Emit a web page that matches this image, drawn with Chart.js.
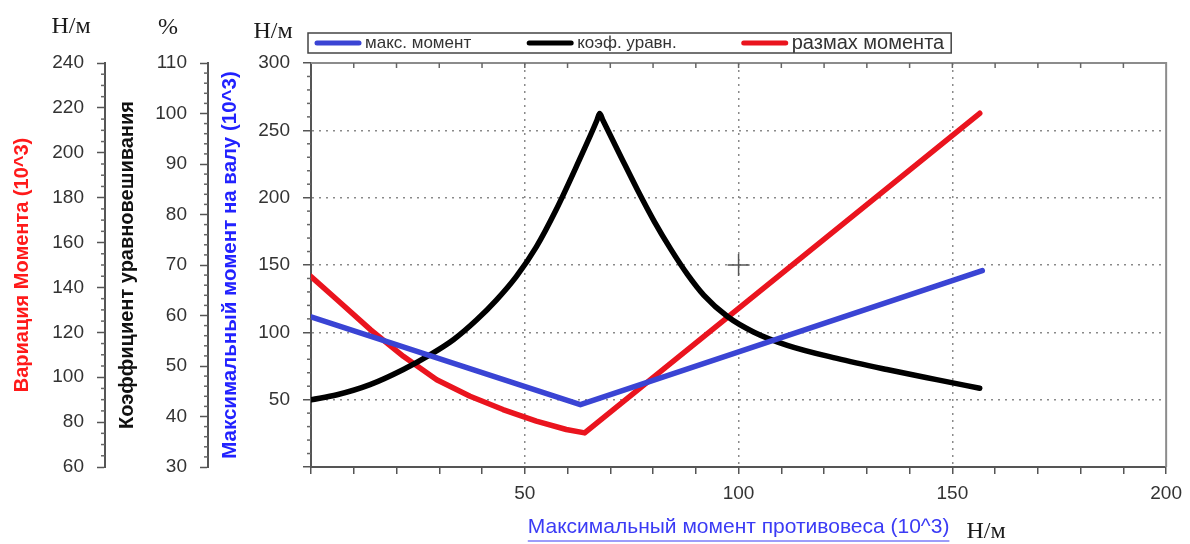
<!DOCTYPE html>
<html>
<head>
<meta charset="utf-8">
<script src="https://cdn.jsdelivr.net/npm/chart.js@4.4.1/dist/chart.umd.min.js"></script>
<style>
  body { margin: 0; background: #fff; }
</style>
</head>
<body>
<canvas id="myChart" width="1190" height="544"></canvas>
<script>
// values, x = max counterweight moment (10^3 Н/м)
const momentX = [0, 63, 157];
const momentY = [111.5, 46.3, 145.8];

const coefX = [0, 6.1, 13.8, 21.6, 27.8, 33.3, 38.7, 43.4, 48.0, 52.7, 57.3, 62.0, 66.9, 67.5, 68.3,
               72.5, 76.4, 80.3, 84.1, 88.0, 91.9, 97.4, 103.6, 111.4, 123.0, 134.7, 146.3, 156.4];
const coefY = [43.3, 44.3, 46.3, 49.3, 52.2, 55.2, 59.1, 63.1, 67.7, 73.6, 80.9, 89.4, 98.7, 100, 98.6,
               91.4, 84.8, 78.6, 73.2, 68.2, 64.0, 59.8, 56.7, 54.1, 51.5, 49.3, 47.3, 45.6];

const rangeX = [0, 6.1, 13.9, 21.6, 29.4, 37.2, 44.9, 52.7, 59.7, 64.0, 156.4];
const rangeY = [144.9, 134.5, 121.2, 109.3, 98.9, 91.5, 85.6, 80.4, 76.7, 75.2, 217.6];

// cursor cross left on the plot
const cursorX = [100];
const cursorY = [150];

const seriesNames = ['макс. момент', 'коэф. уравн.', 'размах момента'];

const blue = 'rgb(58, 68, 212)';
const red = 'rgb(234, 20, 30)';
const axisColor = '#555';
const tickFont = { family: 'Liberation Sans, Arial, sans-serif', size: 19 };
const titleFont = { family: 'Liberation Sans, Arial, sans-serif', size: 20, weight: 'bold' };

function toXY(xs, ys) {
  return xs.map((x, i) => ({ x: x, y: ys[i] }));
}

function lineSet(label, xs, ys, axis, color) {
  return {
    label: label, data: toXY(xs, ys), yAxisID: axis,
    borderColor: color, backgroundColor: color, borderWidth: 5.5,
    pointRadius: 0, tension: 0, borderCapStyle: 'round', borderJoinStyle: 'round'
  };
}

function leftAxis(weight, min, max, step, title, color, width) {
  return {
    type: 'linear', position: 'left', weight: weight, min: min, max: max,
    ticks: { stepSize: step, font: tickFont, color: '#333', padding: 13 },
    grid: { drawOnChartArea: false, tickLength: 8, tickColor: axisColor, tickWidth: 1.5 },
    border: { color: axisColor, width: 2 },
    title: { display: true, text: title, color: color, font: titleFont, padding: { top: 10, bottom: 0 } },
    afterFit: s => { s.width = width; }
  };
}

const minorSteps = { yRange: 5, yCoef: 2, yMoment: 10 };

const decorations = {
  id: 'decorations',
  afterDraw(chart) {
    const ctx = chart.ctx;
    const a = chart.chartArea;
    const sx = chart.scales.x;
    ctx.save();

    // frame on top and right
    ctx.strokeStyle = '#8c8c8c';
    ctx.lineWidth = 2;
    ctx.beginPath();
    ctx.moveTo(a.left, a.top);
    ctx.lineTo(a.right, a.top);
    ctx.lineTo(a.right, a.bottom);
    ctx.stroke();

    // ticks along the top edge
    ctx.strokeStyle = '#666';
    ctx.lineWidth = 1.5;
    for (let v = 10; v < 200; v += 10) {
      const px = sx.getPixelForValue(v);
      ctx.beginPath(); ctx.moveTo(px, a.top); ctx.lineTo(px, a.top + 5); ctx.stroke();
    }

    // minor ticks on the left axes
    Object.keys(minorSteps).forEach(id => {
      const s = chart.scales[id];
      const step = minorSteps[id];
      const major = s.options.ticks.stepSize;
      for (let v = s.min; v <= s.max + 1e-9; v += step) {
        if (Math.abs(v / major - Math.round(v / major)) < 1e-6) continue;
        const py = s.getPixelForValue(v);
        ctx.beginPath(); ctx.moveTo(s.right, py); ctx.lineTo(s.right - 4, py); ctx.stroke();
      }
    });

    // legend box
    const ds = chart.data.datasets;
    const legendFonts = [17, 17, 20];
    const legendGaps = [58, 67, 7];
    let x = a.left + 6;
    const ly = 43;
    const boxLeft = a.left - 3;
    for (let i = 0; i < 3; i++) {
      ctx.strokeStyle = ds[i].borderColor;
      ctx.lineWidth = 5;
      ctx.lineCap = 'round';
      ctx.beginPath(); ctx.moveTo(x, ly); ctx.lineTo(x + 42, ly); ctx.stroke();
      x += 48;
      ctx.font = legendFonts[i] + 'px Liberation Sans, Arial, sans-serif';
      ctx.fillStyle = '#333';
      ctx.textBaseline = 'middle';
      ctx.textAlign = 'left';
      ctx.fillText(ds[i].label, x, ly);
      x += ctx.measureText(ds[i].label).width + legendGaps[i];
    }
    ctx.lineCap = 'butt';
    ctx.strokeStyle = '#444';
    ctx.lineWidth = 1.5;
    ctx.strokeRect(boxLeft, 33, x - boxLeft, 20);

    // units
    ctx.font = '24px Liberation Serif, Times New Roman, serif';
    ctx.fillStyle = '#1a1a1a';
    ctx.textAlign = 'center';
    ctx.fillText('Н/м', chart.scales.yRange.left + 71, 27);
    ctx.fillText('%', chart.scales.yCoef.left + 63, 28);
    ctx.fillText('Н/м', chart.scales.yMoment.left + 65, 32);
    ctx.fillText('Н/м', 986, 532);

    // underline of the x title
    const xt = sx.options.title;
    ctx.font = xt.font.size + 'px Liberation Sans, Arial, sans-serif';
    const w = ctx.measureText(xt.text).width;
    const cx = (a.left + a.right) / 2;
    ctx.strokeStyle = xt.color;
    ctx.lineWidth = 1.2;
    ctx.beginPath(); ctx.moveTo(cx - w / 2, 541); ctx.lineTo(cx + w / 2, 541); ctx.stroke();

    ctx.restore();
  }
};

const coefSet = lineSet(seriesNames[1], coefX, coefY, 'yCoef', '#000');
coefSet.cubicInterpolationMode = 'monotone';

const momentAxis = leftAxis(1, 0, 300, 50, 'Максимальный момент на валу (10^3)', '#2222ff', 103);
momentAxis.ticks.callback = v => (v === 0 ? '' : v);
momentAxis.title.font = { family: 'Liberation Sans, Arial, sans-serif', size: 20.5, weight: 'bold' };
momentAxis.grid = {
  drawOnChartArea: true, tickLength: 8, tickColor: axisColor, tickWidth: 1.5, lineWidth: 1.5,
  color: c => (c.tick && c.tick.value > 0 && c.tick.value < 300) ? '#8a8a8a' : 'rgba(0,0,0,0)'
};
momentAxis.border = { color: axisColor, width: 2, dash: [2, 5] };

new Chart('myChart', {
  type: 'line',
  data: {
    datasets: [
      lineSet(seriesNames[0], momentX, momentY, 'yMoment', blue),
      coefSet,
      lineSet(seriesNames[2], rangeX, rangeY, 'yRange', red),
      {
        label: 'cursor', data: toXY(cursorX, cursorY), yAxisID: 'yMoment',
        showLine: false, pointStyle: 'cross', pointRadius: 11,
        borderColor: '#555', borderWidth: 1.5
      }
    ]
  },
  options: {
    responsive: false,
    animation: false,
    layout: { padding: { top: 63, right: 19, bottom: 0, left: 0 } },
    plugins: { legend: { display: false }, tooltip: { enabled: false } },
    scales: {
      x: {
        type: 'linear', position: 'bottom', min: 0, max: 200,
        ticks: {
          stepSize: 10, autoSkip: false, maxRotation: 0, font: tickFont, color: '#333', padding: 8,
          callback: v => (v % 50 === 0 && v > 0) ? v : ''
        },
        grid: {
          color: c => (c.tick && c.tick.value % 50 === 0 && c.tick.value > 0 && c.tick.value < 200) ? '#8a8a8a' : 'rgba(0,0,0,0)',
          lineWidth: 1.5, tickColor: axisColor, tickLength: 7, tickWidth: 1.5
        },
        border: { color: axisColor, width: 2, dash: [2, 5] },
        title: {
          display: true, text: 'Максимальный момент противовеса (10^3)', color: '#3b3bf5',
          font: { family: 'Liberation Sans, Arial, sans-serif', size: 21 }, padding: { top: 0, bottom: 4 }
        },
        afterFit: s => { s.height = 77; }
      },
      yRange: leftAxis(3, 60, 240, 20, 'Вариация Момента (10^3)', '#ff1a1a', 105),
      yCoef: leftAxis(2, 30, 110, 10, 'Коэффициент уравновешивания', '#111', 103),
      yMoment: momentAxis
    }
  },
  plugins: [decorations]
});
</script>
</body>
</html>
